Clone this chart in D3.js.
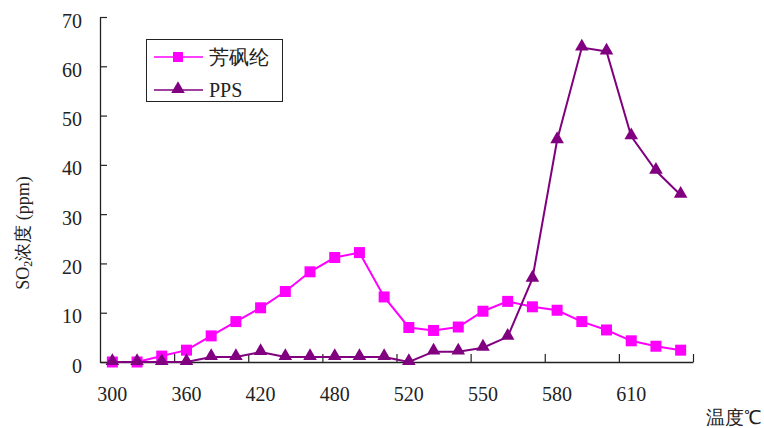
<!DOCTYPE html>
<html>
<head>
<meta charset="utf-8">
<script src="https://cdn.jsdelivr.net/npm/d3@7/dist/d3.min.js"></script>
<style>
  html, body { margin: 0; padding: 0; background: #fff; }
  svg { display: block; }
</style>
</head>
<body>
<svg id="chart" width="764" height="428"></svg>
<script>
// Temperature categories (°C)
const temps = [300, 320, 340, 360, 380, 400, 420, 440, 460, 480, 493, 507,
               520, 530, 540, 550, 560, 570, 580, 590, 600, 610, 620, 630];
// Labelled temperatures on the x axis
const tempLabels = [300, 360, 420, 480, 520, 550, 580, 610];
// SO2 concentration (ppm)
const fangfenglun = [0, 0, 1.2, 2.4, 5.3, 8.2, 11, 14.3, 18.3, 21.2, 22.2, 13.2,
                     7.0, 6.4, 7.1, 10.3, 12.3, 11.2, 10.5, 8.2, 6.5, 4.3, 3.2, 2.4];
const pps = [0, 0, 0, 0, 1, 1, 2, 1, 1, 1, 1, 1,
             0, 2.1, 2.1, 2.9, 5.1, 16.9, 45, 63.8, 63, 45.8, 38.8, 33.9];
const yTicks = [0, 10, 20, 30, 40, 50, 60, 70];
const seriesNames = ["芳砜纶", "PPS"];

const FONT = "'Liberation Serif'";
const svg = d3.select("#chart");
const plotLeft = 100, plotRight = 693, plotTop = 17, plotBottom = 362;

const x = d3.scaleBand().domain(temps).range([plotLeft, plotRight]).padding(0);
const xIdx = d3.scaleLinear().domain([0, temps.length]).range([plotLeft, plotRight]);
const y = d3.scaleLinear().domain([0, 70]).range([plotBottom, plotTop]);
const cx = d => x(d) + x.bandwidth() / 2;

// Y axis with inward ticks
const yAxis = svg.append("g")
  .attr("transform", `translate(${plotLeft},0)`)
  .call(d3.axisLeft(y).tickValues(yTicks).tickSizeInner(-7).tickSizeOuter(0).tickPadding(18));
yAxis.attr("font-family", FONT);
yAxis.selectAll("text").attr("dy", "0.5em")
  .style("font-family", FONT, "important").style("font-size", "20px").attr("fill", "#222");
yAxis.select(".domain").attr("stroke", "#222").attr("stroke-width", 1.3);
yAxis.selectAll(".tick line").attr("stroke", "#222").attr("stroke-width", 1.2);

// X axis: tick marks between every third category
const xTickAxis = svg.append("g")
  .attr("transform", `translate(0,${plotBottom})`)
  .call(d3.axisBottom(xIdx).tickValues(d3.range(3, temps.length + 1, 3))
    .tickSizeInner(-8).tickSizeOuter(0).tickFormat(""));
xTickAxis.select(".domain").attr("stroke", "#222").attr("stroke-width", 1.3);
xTickAxis.selectAll(".tick line").attr("stroke", "#222").attr("stroke-width", 1.2);

// X labels centred on their categories
const xLabelAxis = svg.append("g")
  .attr("transform", `translate(0,${plotBottom})`)
  .call(d3.axisBottom(x).tickValues(tempLabels).tickSize(0).tickPadding(25));
xLabelAxis.attr("font-family", FONT);
xLabelAxis.select(".domain").remove();
xLabelAxis.selectAll("text")
  .style("font-family", FONT, "important").style("font-size", "20px").attr("fill", "#222");

// Axis titles
svg.append("text")
  .attr("transform", "translate(29,233) rotate(-90)")
  .attr("text-anchor", "middle")
  .attr("fill", "#222")
  .style("font-family", FONT, "important").style("font-size", "18px")
  .html('SO<tspan font-size="12px" dy="3">2</tspan><tspan dy="-3">浓度 (ppm)</tspan>');

svg.append("text")
  .attr("x", 762).attr("y", 424)
  .attr("text-anchor", "end")
  .attr("fill", "#222")
  .style("font-family", FONT, "important").style("font-size", "19px")
  .text("温度℃");

const colors = ["#ff00ff", "#800080"];
const line = d3.line().x((d, i) => cx(temps[i])).y(d => y(d));

// 芳砜纶 series: squares
svg.append("path").datum(fangfenglun)
  .attr("d", line).attr("fill", "none")
  .attr("stroke", colors[0]).attr("stroke-width", 2);
svg.append("g").selectAll("rect").data(fangfenglun).join("rect")
  .attr("x", (d, i) => cx(temps[i]) - 5.5)
  .attr("y", d => y(d) - 5.5)
  .attr("width", 11).attr("height", 11)
  .attr("fill", colors[0]);

// PPS series: triangles
const tri = d3.symbol().type(d3.symbolTriangle).size(80);
svg.append("path").datum(pps)
  .attr("d", line).attr("fill", "none")
  .attr("stroke", colors[1]).attr("stroke-width", 2);
svg.append("g").selectAll("path").data(pps).join("path")
  .attr("d", tri)
  .attr("transform", (d, i) => `translate(${cx(temps[i])},${y(d) - 1})`)
  .attr("fill", colors[1]);

// Legend
const lg = svg.append("g");
lg.append("rect").attr("x", 146.5).attr("y", 39.5).attr("width", 136).attr("height", 62)
  .attr("fill", "#fff").attr("stroke", "#222").attr("stroke-width", 1);
const rows = [57, 90];
seriesNames.forEach((name, k) => {
  lg.append("line").attr("x1", 154).attr("x2", 203).attr("y1", rows[k]).attr("y2", rows[k])
    .attr("stroke", colors[k]).attr("stroke-width", 1.6);
  if (k === 0) {
    lg.append("rect").attr("x", 173).attr("y", rows[k] - 5).attr("width", 10).attr("height", 10)
      .attr("fill", colors[k]);
  } else {
    lg.append("path").attr("d", tri).attr("transform", `translate(178,${rows[k] - 1})`)
      .attr("fill", colors[k]);
  }
  lg.append("text").attr("x", 209).attr("y", rows[k] + 7)
    .attr("fill", "#222")
    .style("font-family", FONT, "important").style("font-size", "20px").text(name);
});
</script>
</body>
</html>
